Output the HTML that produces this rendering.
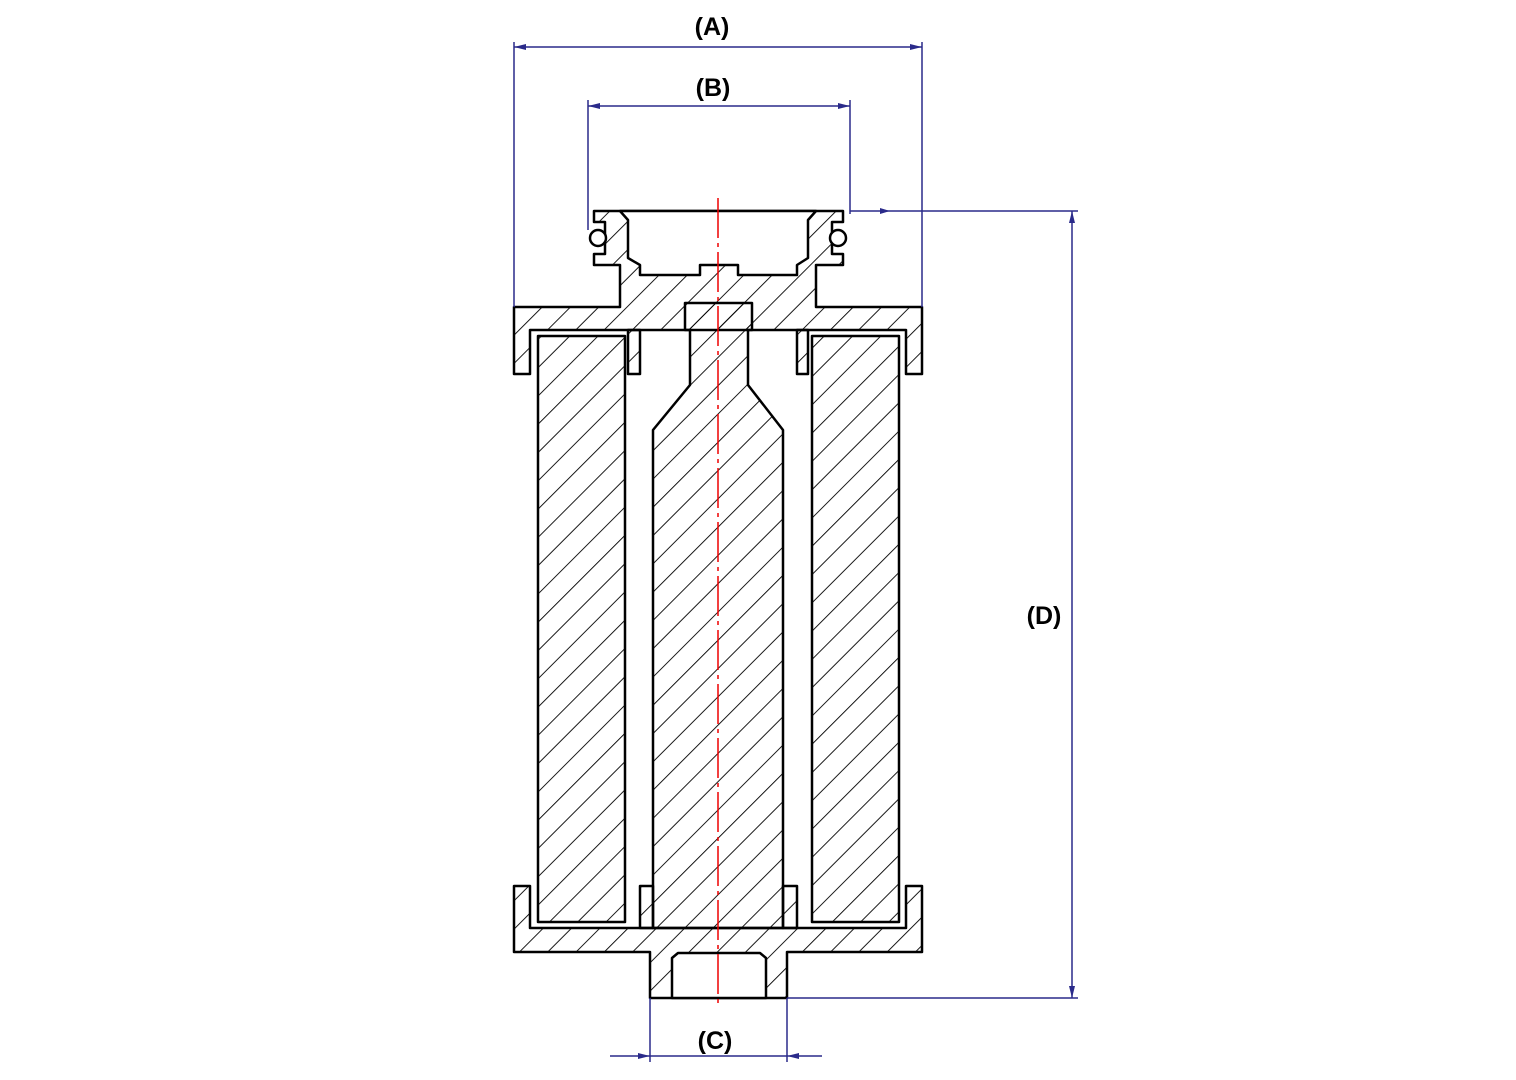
<!DOCTYPE html>
<html><head><meta charset="utf-8"><style>
html,body{margin:0;padding:0;background:#fff;}
svg{display:block;}
text{font-family:"Liberation Sans",sans-serif;font-weight:bold;font-size:25px;fill:#000;}
</style></head><body>
<svg width="1516" height="1080" viewBox="0 0 1516 1080" xmlns="http://www.w3.org/2000/svg">
<defs>
<pattern id="h" width="20" height="20" patternUnits="userSpaceOnUse" patternTransform="rotate(45)">
<line x1="0" y1="0" x2="0" y2="20" stroke="#000" stroke-width="1.8"/>
</pattern>
</defs>
<g stroke="#000" stroke-width="2.5" stroke-linejoin="round">
<path fill="url(#h)" d="M594,211 H843 V222 H832 V254 H843 V265 H816 V307 H922 V374 H906 V330 H530 V374 H514 V307 H620 V265 H594 V254 H605 V222 H594 Z"/>
<path fill="#fff" d="M620,211 H816 L808,220 V258 L797,265 V275 H738 V265 H700 V275 H640 V265 L628,258 V220 Z"/>
<rect x="628" y="330" width="12" height="44" fill="url(#h)"/>
<rect x="797" y="330" width="11" height="44" fill="url(#h)"/>
<circle cx="598" cy="238" r="8" fill="#fff"/>
<circle cx="838" cy="238" r="8" fill="#fff"/>
<path fill="url(#h)" d="M514,886 H530 V928 H906 V886 H922 V952 H787 V998 H650 V952 H514 Z"/>
<path fill="#fff" d="M672,998 H766 V958 L760,953 H678 L672,958 Z"/>
<rect x="640" y="886" width="13" height="42" fill="url(#h)"/>
<rect x="783" y="886" width="14" height="42" fill="url(#h)"/>
<rect x="538" y="336" width="87" height="586" fill="url(#h)"/>
<rect x="812" y="336" width="87" height="586" fill="url(#h)"/>
<path fill="url(#h)" d="M685,303 H752 V330 H748 V385 L783,430 V928 H653 V430 L690,385 V330 H685 Z"/>
</g>
<line x1="718" y1="198" x2="718" y2="1008" stroke="#e00" stroke-width="1.5" stroke-dasharray="40,5,4,5"/>
<g stroke="#2a2a8a" stroke-width="1.5" fill="none">
<line x1="514" y1="47" x2="922" y2="47"/>
<line x1="514" y1="42" x2="514" y2="307"/>
<line x1="922" y1="42" x2="922" y2="307"/>
<line x1="588" y1="106" x2="850" y2="106"/>
<line x1="588" y1="100" x2="588" y2="230"/>
<line x1="850" y1="100" x2="850" y2="214"/>
<line x1="850" y1="211" x2="1078" y2="211"/>
<line x1="787" y1="998" x2="1078" y2="998"/>
<line x1="1072" y1="211" x2="1072" y2="998"/>
<line x1="650" y1="998" x2="650" y2="1062"/>
<line x1="787" y1="998" x2="787" y2="1062"/>
<line x1="610" y1="1056" x2="822" y2="1056"/>
</g>
<g fill="#2a2a8a">
<path d="M514,47 l12,-3 v6 z"/><path d="M922,47 l-12,-3 v6 z"/>
<path d="M588,106 l12,-3 v6 z"/><path d="M850,106 l-12,-3 v6 z"/>
<path d="M1072,211 l-3,12 h6 z"/><path d="M1072,998 l-3,-12 h6 z"/>
<path d="M650,1056 l-12,-3 v6 z"/><path d="M787,1056 l12,-3 v6 z"/>
<path d="M890,211 l-10,-3 v6 z"/>
</g>
<text x="712" y="35" text-anchor="middle">(A)</text>
<text x="713" y="96" text-anchor="middle">(B)</text>
<text x="715" y="1049" text-anchor="middle">(C)</text>
<text x="1044" y="624" text-anchor="middle">(D)</text>
</svg>
</body></html>
